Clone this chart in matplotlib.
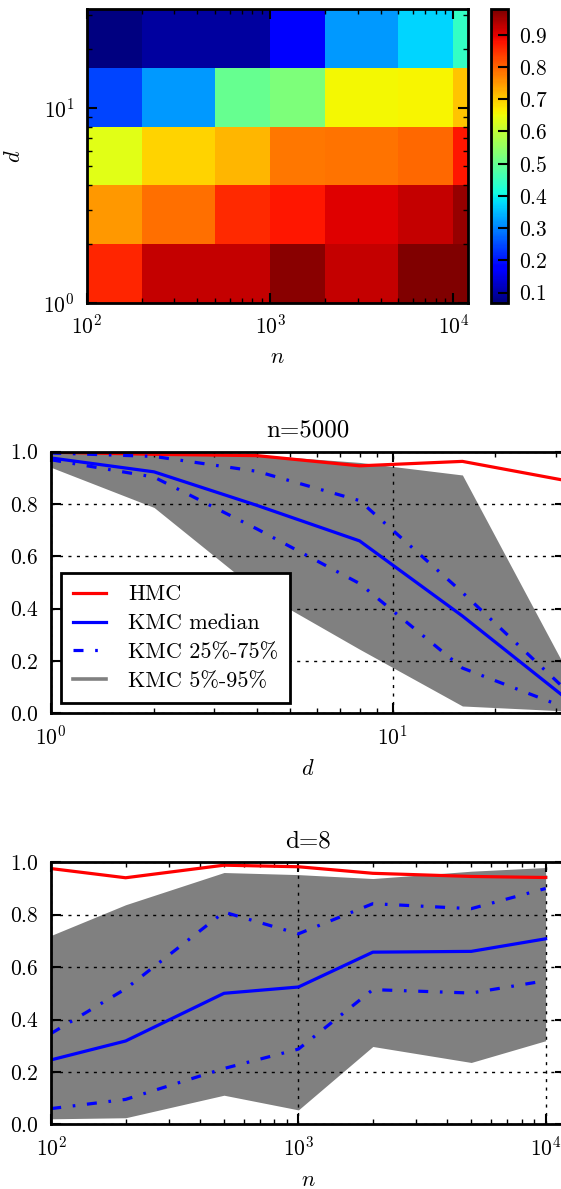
# acceptance rates: KMC vs HMC, heatmap of KMC median + two slices
import numpy as np
import matplotlib
matplotlib.use('Agg')
import matplotlib.pyplot as plt
from matplotlib.lines import Line2D

plt.rcParams['font.family'] = ['cmr10', 'DejaVu Serif']
plt.rcParams['mathtext.fontset'] = 'cm'
plt.rcParams['axes.formatter.use_mathtext'] = True
plt.rcParams['font.size'] = 15.5
plt.rcParams['axes.linewidth'] = 2
plt.rcParams['lines.scale_dashes'] = False
for ax_name in ['xtick', 'ytick']:
	plt.rcParams[ax_name + '.direction'] = 'in'
	plt.rcParams[ax_name + '.major.size'] = 7.5
	plt.rcParams[ax_name + '.minor.size'] = 3.5
	plt.rcParams[ax_name + '.major.width'] = 1.5
	plt.rcParams[ax_name + '.minor.width'] = 1.0
plt.rcParams['xtick.major.pad'] = 8
plt.rcParams['xtick.minor.pad'] = 8
plt.rcParams['ytick.major.pad'] = 9
plt.rcParams['ytick.minor.pad'] = 9
plt.rcParams['xtick.top'] = True
plt.rcParams['ytick.right'] = True

# heatmap: KMC median acceptance, rows = d, columns = n
n_vals = [100, 200, 500, 1000, 2000, 5000, 10000]
n_max = 12000
d_vals = [1, 2, 4, 8, 16]
d_max = 32
median_grid = [
	[0.86, 0.923, 0.923, 0.969, 0.923, 0.976, 0.979],
	[0.75, 0.79, 0.858, 0.873, 0.903, 0.923, 0.959],
	[0.635, 0.693, 0.72, 0.78, 0.785, 0.795, 0.873],
	[0.246, 0.318, 0.5, 0.524, 0.657, 0.66, 0.708],
	[0.069, 0.095, 0.095, 0.175, 0.319, 0.372, 0.444],
]

# slice at n=5000
d_line = [1, 2, 4, 8, 16, 32]
hmc_n5000 = [0.998, 0.99, 0.985, 0.946, 0.963, 0.89]
med_n5000 = [0.976, 0.923, 0.795, 0.659, 0.372, 0.06]
q25_n5000 = [0.969, 0.903, 0.705, 0.496, 0.173, 0.022]
q75_n5000 = [0.995, 0.982, 0.925, 0.813, 0.462, 0.092]
q05_n5000 = [0.94, 0.787, 0.47, 0.245, 0.028, 0.009]
q95_n5000 = [0.998, 0.992, 0.988, 0.959, 0.911, 0.175]

# slice at d=8
n_line = n_vals
hmc_d8 = [0.976, 0.941, 0.989, 0.983, 0.958, 0.946, 0.942]
med_d8 = [0.246, 0.318, 0.5, 0.524, 0.657, 0.66, 0.708]
q25_d8 = [0.06, 0.095, 0.213, 0.287, 0.514, 0.501, 0.548]
q75_d8 = [0.347, 0.517, 0.81, 0.727, 0.842, 0.823, 0.9]
q05_d8 = [0.021, 0.025, 0.111, 0.055, 0.297, 0.236, 0.319]
q95_d8 = [0.721, 0.838, 0.961, 0.953, 0.938, 0.966, 0.98]

W, H = 561., 1189.
fig = plt.figure(figsize=(W / 100, H / 100), dpi=100)

dashdot = (0, (7.2, 8.4, 1.9, 8.4))
gridstyle = (0, (2.2, 3.9))
lw = 2.3

#----- heatmap
ax1 = fig.add_axes([87 / W, 1 - 302.7 / H, 381 / W, 293.4 / H])
cax = fig.add_axes([491 / W, 1 - 302.7 / H, 16.5 / W, 293.4 / H])
n_edges = n_vals + [n_max]
d_edges = d_vals + [d_max]
mesh = ax1.pcolormesh(n_edges, d_edges, np.array(median_grid), cmap='jet', shading='flat')
ax1.set_xscale('log')
ax1.set_yscale('log')
ax1.set_xlim(n_vals[0], n_max)
ax1.set_ylim(d_vals[0], d_max)
ax1.set_xlabel('$n$', fontsize=16)
ax1.set_ylabel('$d$', fontsize=16)
ax1.xaxis.set_label_coords(0.5, -0.152)
ax1.yaxis.set_label_coords(-0.165, 0.5)
ax1.tick_params(which='both', top=True, right=True)

cb = fig.colorbar(mesh, cax=cax)
cb.set_ticks([0.1, 0.2, 0.3, 0.4, 0.5, 0.6, 0.7, 0.8, 0.9])
cb.outline.set_linewidth(2)
cax.tick_params(direction='in', length=7, width=1.5, right=True, left=False, pad=8)
cax.minorticks_off()

#----- slice n=5000
ax2 = fig.add_axes([51.2 / W, 1 - 713.3 / H, 514 / W, 261.6 / H])
ax2.fill_between(d_line, q05_n5000, q95_n5000, color='gray', lw=0)
ax2.plot(d_line, hmc_n5000, color='r', lw=lw, label='HMC')
ax2.plot(d_line, med_n5000, color='b', lw=lw, label='KMC median')
ax2.plot(d_line, q25_n5000, color='b', lw=lw, ls=dashdot, label='KMC 25%-75%')
ax2.plot(d_line, q75_n5000, color='b', lw=lw, ls=dashdot)
ax2.set_xscale('log')
ax2.set_xlim(d_line[0], d_line[-1])
ax2.set_ylim(0, 1)
ax2.set_yticks([0.0, 0.2, 0.4, 0.6, 0.8, 1.0])
ax2.grid(True, color='k', ls=gridstyle, lw=1)
ax2.set_title('n=5000', fontsize=18, pad=11)
ax2.set_xlabel('$d$', fontsize=16)
ax2.xaxis.set_label_coords(0.5, -0.175)

handles, labels = ax2.get_legend_handles_labels()
handles.append(Line2D([], [], color='gray', lw=2.6))
labels.append('KMC 5%-95%')
leg = ax2.legend(handles, labels, loc='lower left', fontsize=16, fancybox=False,
	edgecolor='k', framealpha=1, borderpad=0.55, handlelength=1.45,
	handletextpad=1.0, labelspacing=0.42, borderaxespad=0.45)
leg.get_frame().set_linewidth(2)

#----- slice d=8
ax3 = fig.add_axes([51.2 / W, 1 - 1124.3 / H, 514 / W, 262 / H])
ax3.fill_between(n_line, q05_d8, q95_d8, color='gray', lw=0)
ax3.plot(n_line, hmc_d8, color='r', lw=lw)
ax3.plot(n_line, med_d8, color='b', lw=lw)
ax3.plot(n_line, q25_d8, color='b', lw=lw, ls=dashdot)
ax3.plot(n_line, q75_d8, color='b', lw=lw, ls=dashdot)
ax3.set_xscale('log')
ax3.set_xlim(n_vals[0], n_max)
ax3.set_ylim(0, 1)
ax3.set_yticks([0.0, 0.2, 0.4, 0.6, 0.8, 1.0])
ax3.grid(True, color='k', ls=gridstyle, lw=1)
ax3.set_title('d=8', fontsize=18, pad=11)
ax3.set_xlabel('$n$', fontsize=16)
ax3.xaxis.set_label_coords(0.5, -0.177)

fig.savefig('out.png', dpi=100)
